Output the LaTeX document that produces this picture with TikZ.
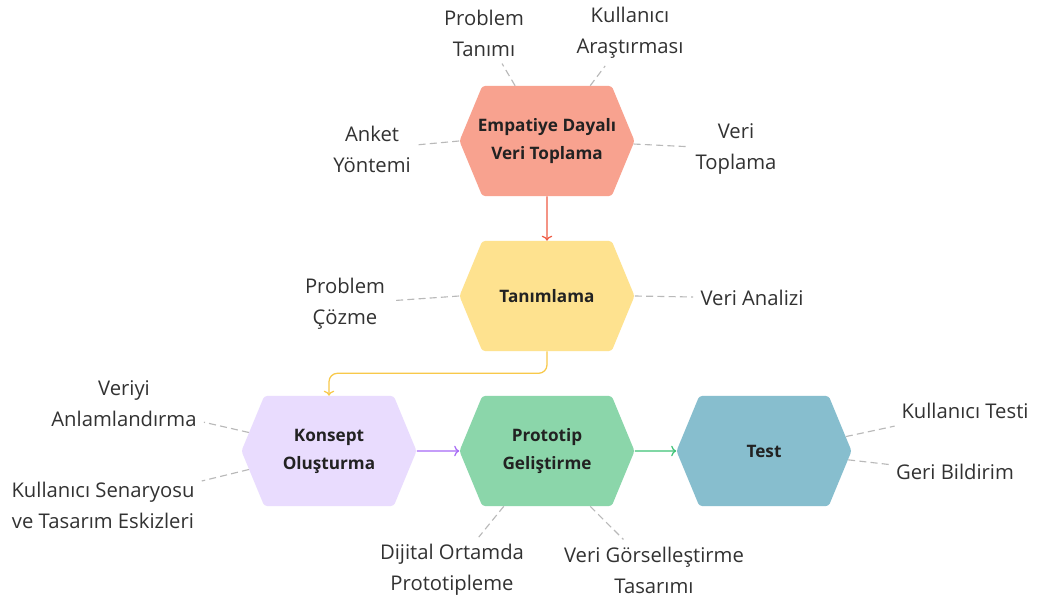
\documentclass[tikz,border=0pt]{standalone}
\usepackage{fontspec}
\setmainfont{Open Sans}
\usepackage{tikz}
\usetikzlibrary{arrows.meta,shapes.symbols}
\definecolor{dtsalmon}{RGB}{248,162,143}
\definecolor{dtyellow}{RGB}{254,226,143}
\definecolor{dtlilac}{RGB}{233,220,254}
\definecolor{dtgreen}{RGB}{139,214,170}
\definecolor{dtteal}{RGB}{135,190,206}
\definecolor{dtred}{RGB}{239,91,68}
\definecolor{dtgold}{RGB}{248,201,74}
\definecolor{dtpurple}{RGB}{167,105,246}
\definecolor{dtmint}{RGB}{61,194,118}
\definecolor{dtgray}{RGB}{185,185,185}
\definecolor{dttext}{RGB}{50,50,50}
\definecolor{dtdark}{RGB}{34,34,34}

\begin{document}
\begin{tikzpicture}[
  x=0.025cm,y=-0.025cm,
  every node/.style={font=\fontsize{14.4}{22}\selectfont,text=dttext},
  stage/.style={signal,signal to=east and west,signal pointer angle=135,minimum width=4.375cm,minimum height=2.75cm,inner xsep=-12pt,inner ysep=0pt,rounded corners=2pt,align=center,font=\fontsize{12.2}{20}\selectfont\bfseries,text=dtdark},
  note/.style={align=center,inner sep=5pt},
  link/.style={dash pattern=on 5pt off 3pt,dtgray,line width=0.8pt}
]
\path[use as bounding box,fill=white] (0,0) rectangle (1037,603);

% the five stages
\node[stage,fill=dtsalmon] (emp) at (547,141) {Empatiye Dayalı\\Veri Toplama};
\node[stage,fill=dtyellow] (tan) at (547,296) {Tanımlama};
\node[stage,fill=dtlilac] (kon) at (329,451) {Konsept\\Oluşturma};
\node[stage,fill=dtgreen] (pro) at (547,451) {Prototip\\Geliştirme};
\node[stage,fill=dtteal] (tst) at (764,451) {Test};

% notes around them
\node[note] (ptan) at (484,33) {Problem\\Tanımı};
\node[note] (kara) at (630,33) {Kullanıcı\\Araştırması};
\node[note] (ank) at (372,149) {Anket\\Yöntemi};
\node[note] (vtop) at (736,149) {Veri\\Toplama};
\node[note] (pcoz) at (345,304) {Problem\\Çözme};
\node[note] (van) at (752,298) {Veri Analizi};
\node[note] (vanl) at (124,404) {Veriyi\\Anlamlandırma};
\node[note] (kse) at (103,505) {Kullanıcı Senaryosu\\ve Tasarım Eskizleri};
\node[note] (dij) at (452,570) {Dijital Ortamda\\Prototipleme};
\node[note] (vgor) at (654,570) {Veri Görselleştirme\\Tasarımı};
\node[note] (kte) at (965,411) {Kullanıcı Testi};
\node[note] (geri) at (955,472) {Geri Bildirim};

\draw[link] (emp.120) -- (ptan);
\draw[link] (emp.52) -- (kara);
\draw[link] (emp.west) -- (ank);
\draw[link] (emp.-2) -- (vtop);
\draw[link] (tan.west) -- (pcoz);
\draw[link] (tan.east) -- (van);
\draw[link] (kon.167) -- (vanl);
\draw[link] (kon.193) -- (kse);
\draw[link] (pro.232) -- (dij);
\draw[link] (pro.308) -- (vgor);
\draw[link] (tst.10) -- (kte);
\draw[link] (tst.354) -- (geri);

% flow between stages
\draw[->,line width=0.9pt,dtred] (emp) -- (tan);
\draw[->,line width=0.9pt,dtgold,rounded corners=6pt] (tan.south) -- ++(0,22) -| (kon.north);
\draw[->,line width=0.9pt,dtpurple] (kon) -- (pro);
\draw[->,line width=0.9pt,dtmint] (pro) -- (tst);
\end{tikzpicture}
\end{document}
